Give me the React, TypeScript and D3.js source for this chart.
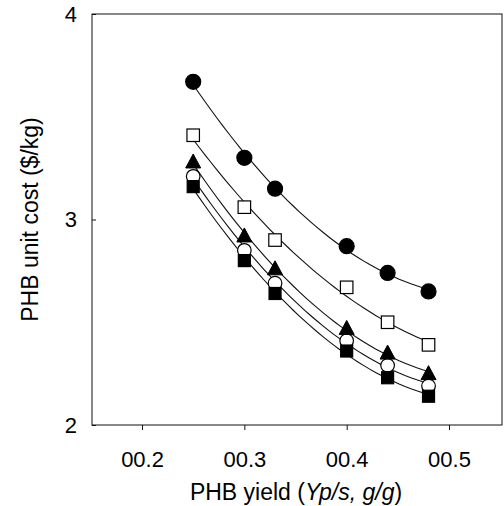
import React, { useEffect, useRef } from "react";
import * as d3 from "d3";

// PHB yield (g/g)
const yields = [0.25, 0.3, 0.33, 0.4, 0.44, 0.48];

// unit cost ($/kg), one list per curve
const filledCircle = [3.67, 3.3, 3.15, 2.87, 2.74, 2.65];
const openSquare = [3.41, 3.06, 2.9, 2.67, 2.5, 2.39];
const filledTriangle = [3.28, 2.92, 2.76, 2.47, 2.35, 2.25];
const openCircle = [3.21, 2.85, 2.69, 2.41, 2.29, 2.19];
const filledSquare = [3.16, 2.8, 2.64, 2.36, 2.23, 2.14];

const xTicks = [0.2, 0.3, 0.4, 0.5];
const xTickLabels = ["00.2", "00.3", "00.4", "00.5"];
const yTicks = [2, 3, 4];

const series = [
  { name: "openCircle", values: openCircle, shape: "circle", fill: "#fff" },
  { name: "filledSquare", values: filledSquare, shape: "square", fill: "#000" },
  { name: "filledTriangle", values: filledTriangle, shape: "triangle", fill: "#000" },
  { name: "openSquare", values: openSquare, shape: "square", fill: "#fff" },
  { name: "filledCircle", values: filledCircle, shape: "circle", fill: "#000" },
];

const width = 504;
const height = 506;
const margin = { top: 14, right: 2, bottom: 81, left: 92 };

// least squares quadratic fit, used for the smooth trend curves
function quadFit(xs: number[], ys: number[]) {
  const n = xs.length;
  let s = [0, 0, 0, 0, 0];
  let t = [0, 0, 0];
  for (let i = 0; i < n; i++) {
    const xi = xs[i];
    for (let k = 0; k < 5; k++) s[k] += Math.pow(xi, k);
    for (let k = 0; k < 3; k++) t[k] += ys[i] * Math.pow(xi, k);
  }
  const A = [
    [s[0], s[1], s[2], t[0]],
    [s[1], s[2], s[3], t[1]],
    [s[2], s[3], s[4], t[2]],
  ];
  for (let c = 0; c < 3; c++) {
    for (let r = c + 1; r < 3; r++) {
      const f = A[r][c] / A[c][c];
      for (let k = c; k < 4; k++) A[r][k] -= f * A[c][k];
    }
  }
  const b = [0, 0, 0];
  for (let r = 2; r >= 0; r--) {
    let v = A[r][3];
    for (let k = r + 1; k < 3; k++) v -= A[r][k] * b[k];
    b[r] = v / A[r][r];
  }
  return (xv: number) => b[0] + b[1] * xv + b[2] * xv * xv;
}

export default function App() {
  const ref = useRef<SVGSVGElement>(null);

  useEffect(() => {
    const svg = d3.select(ref.current);
    svg.selectAll("*").remove();

    const x = d3
      .scaleLinear()
      .domain([0.1511, 0.5518])
      .range([margin.left, width - margin.right]);
    const y = d3
      .scaleLinear()
      .domain([2, 4])
      .range([height - margin.bottom, margin.top]);

    const font = "'Liberation Sans', Arial, sans-serif";
    const ink = "#111";

    // frame
    svg
      .append("rect")
      .attr("x", margin.left)
      .attr("y", margin.top)
      .attr("width", width - margin.left - margin.right)
      .attr("height", height - margin.top - margin.bottom)
      .attr("fill", "none")
      .attr("stroke", ink)
      .attr("stroke-width", 1);

    // x axis
    const xAxis = svg
      .append("g")
      .attr("transform", `translate(0,${height - margin.bottom})`)
      .call(
        d3
          .axisBottom(x)
          .tickValues(xTicks)
          .tickSize(5)
          .tickPadding(21)
          .tickFormat((_, i) => xTickLabels[i])
      );
    xAxis.select(".domain").remove();
    xAxis.selectAll("line").attr("stroke", ink);
    xAxis
      .selectAll("text")
      .attr("font-family", font)
      .attr("font-size", 22)
      .attr("fill", "#000");

    // y axis
    const yAxis = svg
      .append("g")
      .attr("transform", `translate(${margin.left},0)`)
      .call(
        d3
          .axisLeft(y)
          .tickValues(yTicks)
          .tickSize(-4)
          .tickPadding(15)
          .tickFormat(d3.format("d"))
      );
    yAxis.select(".domain").remove();
    yAxis.selectAll("line").attr("stroke", ink);
    yAxis
      .selectAll("text")
      .attr("font-family", font)
      .attr("font-size", 22)
      .attr("fill", "#000");

    // axis titles
    const xt = svg
      .append("text")
      .attr("x", 296)
      .attr("y", 500)
      .attr("text-anchor", "middle")
      .attr("font-family", font)
      .attr("font-size", 23);
    xt.append("tspan").text("PHB yield (");
    xt.append("tspan").attr("font-style", "italic").text("Yp/s, g/g");
    xt.append("tspan").text(")");

    svg
      .append("text")
      .attr("transform", `translate(38,${(margin.top + height - margin.bottom) / 2}) rotate(-90)`)
      .attr("text-anchor", "middle")
      .attr("font-family", font)
      .attr("font-size", 23)
      .text("PHB unit cost ($/kg)");

    // fitted curves
    const line = d3
      .line<[number, number]>()
      .x((d) => x(d[0]))
      .y((d) => y(d[1]));

    const x0 = yields[0];
    const x1 = yields[yields.length - 1];
    series.forEach((s) => {
      const f = quadFit(yields, s.values);
      const pts: [number, number][] = d3
        .range(0, 41)
        .map((k) => {
          const xv = x0 + ((x1 - x0) * k) / 40;
          return [xv, f(xv)];
        });
      svg
        .append("path")
        .attr("d", line(pts))
        .attr("fill", "none")
        .attr("stroke", ink)
        .attr("stroke-width", 1.1);
    });

    // markers
    series.forEach((s) => {
      const g = svg.append("g");
      s.values.forEach((v, i) => {
        const cx = x(yields[i]);
        const cy = y(v);
        if (s.shape === "circle") {
          g.append("circle")
            .attr("cx", cx)
            .attr("cy", cy)
            .attr("r", s.fill === "#000" ? 7.5 : 6.8)
            .attr("fill", s.fill)
            .attr("stroke", "#000")
            .attr("stroke-width", 1.2);
        } else if (s.shape === "square") {
          const a = s.fill === "#000" ? 12 : 12.5;
          g.append("rect")
            .attr("x", cx - a / 2)
            .attr("y", cy - a / 2)
            .attr("width", a)
            .attr("height", a)
            .attr("fill", s.fill)
            .attr("stroke", "#000")
            .attr("stroke-width", 1.2);
        } else {
          g.append("path")
            .attr("d", `M${cx},${cy - 8} L${cx + 7.5},${cy + 6} L${cx - 7.5},${cy + 6} Z`)
            .attr("fill", s.fill)
            .attr("stroke", "#000")
            .attr("stroke-width", 1);
        }
      });
    });
  }, []);

  return (
    <svg
      ref={ref}
      width={width}
      height={height}
      style={{ position: "absolute", left: 0, top: 0, background: "#fff" }}
    />
  );
}
